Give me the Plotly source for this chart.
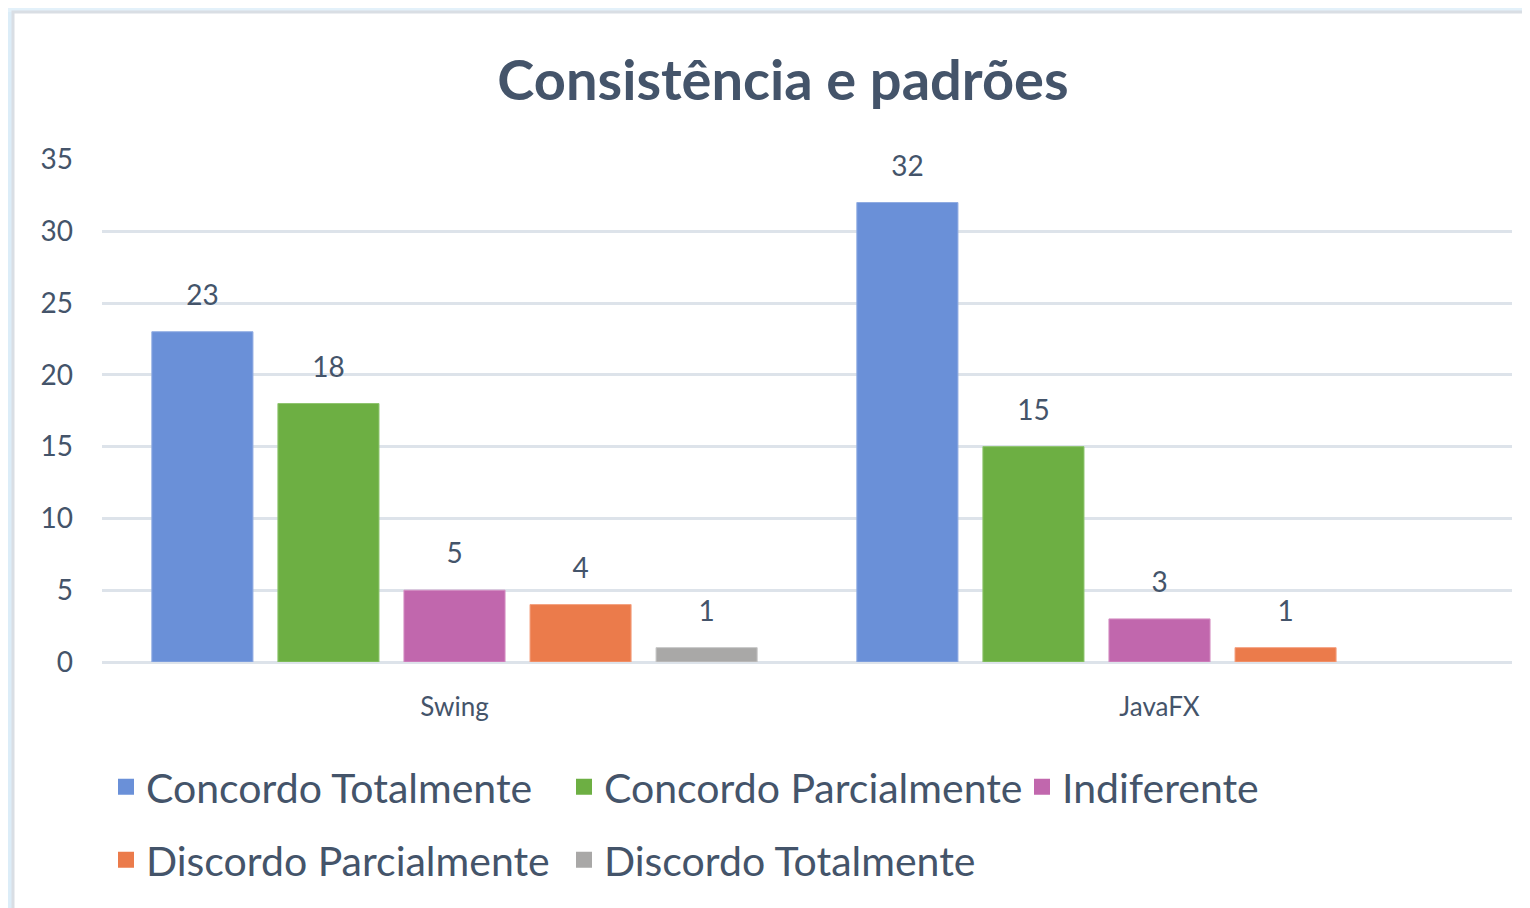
import plotly.graph_objects as go

categories = ["Swing", "JavaFX"]
series_names = ["Concordo Totalmente", "Concordo Parcialmente", "Indiferente",
                "Discordo Parcialmente", "Discordo Totalmente"]
concordo_totalmente = [23, 32]
concordo_parcialmente = [18, 15]
indiferente = [5, 3]
discordo_parcialmente = [4, 1]
discordo_totalmente = [1, None]
series_values = [concordo_totalmente, concordo_parcialmente, indiferente,
                 discordo_parcialmente, discordo_totalmente]
colors = ["#6A90D8", "#6DAF43", "#C167AD", "#EB7B4B", "#A9A8A7"]
line_colors = ["#90ACE2", "#8FC56F", "#D590C4", "#F4A282", "#C6C6C6"]
legend_rows = ["legend", "legend", "legend", "legend2", "legend2"]

W, H = 1530, 908
OFF = 8  # page body margin
# target pixel positions (in the screenshot)
PLOT_L, PLOT_R, PLOT_T, PLOT_B = 102, 1512, 159, 662
L = PLOT_L - OFF
T = PLOT_T - OFF
R = W - (PLOT_R - OFF)
B = H - (PLOT_B - OFF)
pw, ph = W - L - R, H - T - B

def px(x):
    return (x - OFF - L) / pw

def py(y):
    return (H - B - (y - OFF)) / ph

def cx(x):
    return (x - OFF) / W

def cy(y):
    return 1 - (y - OFF) / H

text_color = "#44546A"
font_family = "Lato, 'Open Sans', sans-serif"

fig = go.Figure()
for name, vals, c, lc in zip(series_names, series_values, colors, line_colors):
    fig.add_trace(go.Bar(
        x=categories, y=vals, name=name, showlegend=False,
        marker=dict(color=c, line=dict(color=lc, width=1)),
    ))
# data labels, grouped like the bars
for name, vals in zip(series_names, series_values):
    fig.add_trace(go.Scatter(
        x=categories, y=vals, mode="markers+text", showlegend=False,
        text=[("" if v is None else str(v)) for v in vals],
        textposition="top center", cliponaxis=False, hoverinfo="skip",
        marker=dict(size=30, opacity=0),
        textfont=dict(size=28, color=text_color, family=font_family),
    ))
# legend entries (on hidden axes so they do not affect grouping)
for name, c, lg in zip(series_names, colors, legend_rows):
    fig.add_trace(go.Scatter(
        x=[None], y=[None], mode="markers", name=name, legend=lg,
        xaxis="x2", yaxis="y2",
        marker=dict(symbol="square", size=22, color=c),
    ))

shapes = [
    dict(type="rect", xref="paper", yref="paper", x0=px(-10), x1=px(13), y0=py(H + 20), y1=py(-10),
         fillcolor="#DCEDF8", line=dict(width=0), layer="below"),
    dict(type="rect", xref="paper", yref="paper", x0=px(-10), x1=px(W + 20), y0=py(12), y1=py(-10),
         fillcolor="#E3F1FA", line=dict(width=0), layer="below"),
    dict(type="rect", xref="paper", yref="paper", x0=px(13), x1=px(W + 20), y0=py(H + 20), y1=py(12),
         fillcolor="white", line=dict(color="#D9DEE4", width=3), layer="below"),
]

legend_common = dict(orientation="h", xref="container", yref="container",
                     x=cx(106), xanchor="left", yanchor="middle",
                     entrywidth=413, entrywidthmode="pixels", bgcolor="rgba(0,0,0,0)",
                     font=dict(size=41, color=text_color, family=font_family),
                     itemwidth=30, itemsizing="trace", traceorder="normal")

fig.update_layout(
    width=W, height=H,
    margin=dict(l=L, r=R, t=T, b=B, autoexpand=False),
    paper_bgcolor="white", plot_bgcolor="rgba(0,0,0,0)",
    barmode="group", bargap=0.106, bargroupgap=0.198,
    scattermode="group", scattergap=0.106,
    shapes=shapes,
    title=dict(text="<b>Consistência e padrões</b>", x=cx(783), xref="container", xanchor="center",
               y=cy(80), yanchor="middle",
               font=dict(size=56, color=text_color, family=font_family)),
    font=dict(family=font_family, color=text_color),
    xaxis=dict(showgrid=False, zeroline=False, showline=False, ticks="", automargin=False,
               tickfont=dict(size=26, color=text_color), ticklabelstandoff=27),
    yaxis=dict(range=[0, 35.03], tickvals=[0, 5, 10, 15, 20, 25, 30, 35],
               showgrid=True, gridcolor="#DDE3EA", gridwidth=3,
               zeroline=True, zerolinecolor="#DDE3EA", zerolinewidth=3, showline=False,
               automargin=False,
               tickfont=dict(size=28, color=text_color), ticklabelstandoff=28),
    xaxis2=dict(visible=False, overlaying="x", matches=None),
    yaxis2=dict(visible=False, overlaying="y"),
    legend=dict(legend_common, y=cy(787)),
    legend2=dict(legend_common, y=cy(860)),
)

fig.write_html("out.html")
